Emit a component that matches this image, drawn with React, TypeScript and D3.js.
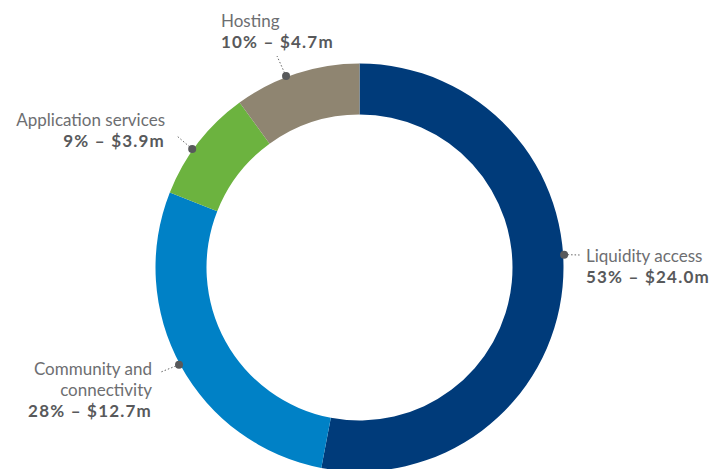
import React, { useEffect, useRef } from "react";
import * as d3 from "d3";

// segments, clockwise from 12 o'clock
const categories = ["Liquidity access", "Community and connectivity", "Application services", "Hosting"];
const shares = [53, 28, 9, 10];
const amounts = ["$24.0m", "$12.7m", "$3.9m", "$4.7m"];
const colors = ["#003b7a", "#0081c6", "#6cb33f", "#8f8571"];

function App() {
  const ref = useRef<SVGSVGElement>(null);

  useEffect(() => {
    const width = 712;
    const height = 469;
    const cx = 359.5;
    const cy = 267.5;
    const outer = 204;
    const inner = 153;

    const svg = d3.select(ref.current);
    svg.selectAll("*").remove();

    const data = categories.map((c, i) => ({ name: c, value: shares[i], amount: amounts[i], color: colors[i] }));

    const pie = d3.pie<any>().value((d) => d.value).sort(null);
    const arc = d3.arc<any>().innerRadius(inner).outerRadius(outer);
    const arcs = pie(data);

    const g = svg.append("g").attr("transform", `translate(${cx},${cy})`);
    g.selectAll("path")
      .data(arcs)
      .join("path")
      .attr("d", arc)
      .attr("fill", (d) => d.data.color);

    // label layout: angle nudge for the dot, leader end, text anchor point
    const layout = [
      { nudge: -9, lead: [580, 255], tx: 586, ty: 262, anchor: "start" },
      { nudge: 0.5, lead: [161, 372], tx: 152, ty: 375, anchor: "end" },
      { nudge: -2.5, lead: [177, 136], tx: 165, ty: 126, anchor: "end" },
      { nudge: -3, lead: [277, 56], tx: 221, ty: 27, anchor: "start" },
    ];

    arcs.forEach((a, i) => {
      const L = layout[i];
      const ang = (a.startAngle + a.endAngle) / 2 + (L.nudge * Math.PI) / 180;
      const r = outer + 1;
      const px = cx + r * Math.sin(ang);
      const py = cy - r * Math.cos(ang);

      svg
        .append("line")
        .attr("x1", px)
        .attr("y1", py)
        .attr("x2", L.lead[0])
        .attr("y2", L.lead[1])
        .attr("stroke", "#666")
        .attr("stroke-width", 1)
        .attr("stroke-dasharray", "1.5,2");

      svg.append("circle").attr("cx", px).attr("cy", py).attr("r", 4).attr("fill", "#58595b");

      const words = i === 1 ? ["Community and", "connectivity"] : [a.data.name];
      const t = svg
        .append("text")
        .attr("x", L.tx)
        .attr("y", L.ty)
        .attr("text-anchor", L.anchor)
        .attr("font-family", "Lato, 'Open Sans', sans-serif")
        .attr("font-size", 17)
        .attr("fill", "#6d6e71");
      words.forEach((w, k) => {
        t.append("tspan").attr("x", L.tx).attr("dy", k === 0 ? 0 : 21).text(w);
      });
      t.append("tspan")
        .attr("x", L.tx)
        .attr("dy", 21)
        .attr("font-weight", "bold")
        .attr("fill", "#58595b")
        .attr("letter-spacing", 1.2)
        .text(`${a.data.value}% – ${a.data.amount}`);
    });

    svg.attr("width", width).attr("height", height);
  }, []);

  return (
    <div style={{ position: "absolute", left: 0, top: 0 }}>
      <svg ref={ref} width={712} height={469} style={{ display: "block" }} />
    </div>
  );
}

export default App;
